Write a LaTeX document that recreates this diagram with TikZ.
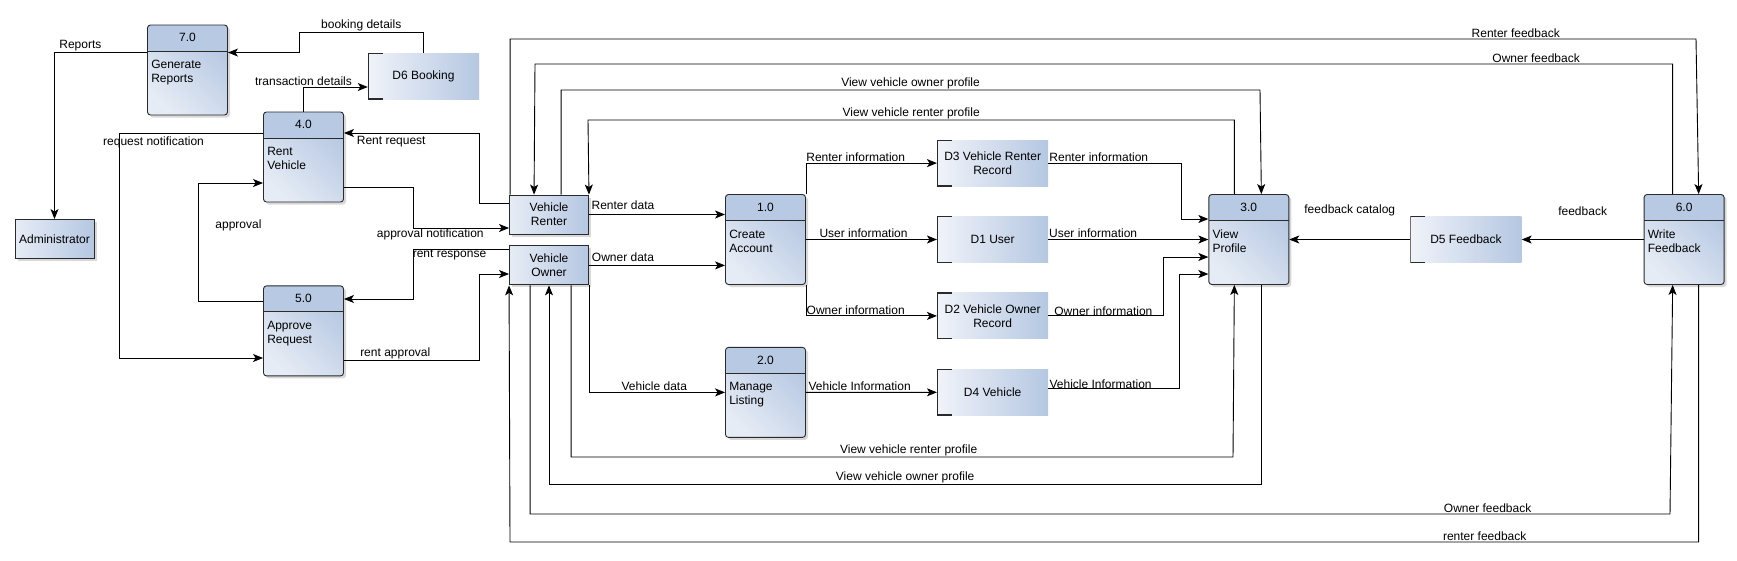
\documentclass[tikz,border=0pt]{standalone}
\usepackage{fontspec}
\setmainfont{Liberation Sans}
\usetikzlibrary{positioning, arrows.meta, shadows}
\definecolor{hdblue}{HTML}{B8C9E3}
\definecolor{lightblue}{HTML}{E6ECF5}
\definecolor{midblue}{HTML}{B5C7E2}
\definecolor{storeleft}{HTML}{F0F3F9}
\definecolor{edge}{HTML}{2A2A2A}
\tikzset{
    process/.style={
        draw=edge, rectangle, rounded corners=3pt, line width=0.9pt,
        minimum width=80pt, minimum height=90pt, inner sep=0pt,
        top color=midblue, bottom color=lightblue, shading angle=-45,
        drop shadow={shadow xshift=2.5pt, shadow yshift=-2.5pt, opacity=0.3},
        path picture={
            \fill[hdblue] (path picture bounding box.north west) rectangle
                ([yshift=-26pt]path picture bounding box.north east);
            \draw[edge, line width=0.9pt] ([yshift=-26pt]path picture bounding box.north west)
                -- ([yshift=-26pt]path picture bounding box.north east);
        }
    },
    procno/.style={inner sep=0pt},
    proctxt/.style={anchor=north west, align=left, inner sep=2pt},
    entity/.style={
        draw=edge, rectangle, line width=0.9pt, align=center,
        minimum width=79pt, minimum height=39pt,
        left color=lightblue, right color=midblue,
        drop shadow={shadow xshift=2.5pt, shadow yshift=-2.5pt, opacity=0.3}
    },
    store/.style={
        rectangle, minimum width=111pt, minimum height=46pt, align=center,
        left color=storeleft, right color=midblue,
        path picture={
            \draw[edge, line width=1.8pt] ([xshift=15pt]path picture bounding box.north west)
                -| (path picture bounding box.south west)
                -- ([xshift=15pt]path picture bounding box.south west);
        }
    },
    flow/.style={-{Stealth[length=10pt, width=8pt, inset=2.5pt]}, line width=0.9pt},
    lbl/.style={inner sep=1pt}
}
\newcommand{\dfdproc}[4][]{%
    \node[process, #1] (#2) {};
    \node[procno] (#2-no) at ([yshift=-13pt]#2.north) {#3};
    \node[proctxt] (#2-txt) at ([xshift=2pt, yshift=-33.5pt]#2.north west) {#4};
}

\begin{document}
\begin{tikzpicture}[x=1pt, y=-1pt, every node/.style={font=\fontsize{12pt}{14pt}\selectfont}]
    \path[use as bounding box, fill=white] (0,0) rectangle (1737,560);

    \dfdproc[at={(187.5,70)}]{rep}{7.0}{Generate\\Reports}
    \node[entity] (admin) at (54.5,239) {Administrator};
    \node[store] (dbook) at (423.5,76) {D6 Booking};
    \dfdproc[at={(303.5,157)}]{rent}{4.0}{Rent\\Vehicle}
    \dfdproc[below=83pt of rent]{appr}{5.0}{Approve\\Request}
    \node[entity] (renter) at (549,214.5) {Vehicle\\Renter};
    \node[entity, below=11pt of renter] (owner) {Vehicle\\Owner};
    \dfdproc[at={(765.5,239.5)}]{acc}{1.0}{Create\\Account}
    \dfdproc[below=62pt of acc]{lst}{2.0}{Manage\\Listing}
    \node[store, right=131pt of acc] (duser) {D1 User};
    \node[store, above=30pt of duser] (drenter) {D3 Vehicle Renter\\Record};
    \node[store, below=30pt of duser] (downer) {D2 Vehicle Owner\\Record};
    \node[store, below=30pt of downer] (dveh) {D4 Vehicle};
    \dfdproc[right=160pt of duser]{view}{3.0}{View\\Profile}
    \node[store, right=121pt of view] (dfb) {D5 Feedback};
    \dfdproc[right=122pt of dfb]{wfb}{6.0}{Write\\Feedback}

    \draw[flow] ([yshift=-28pt]rep.north west) -| node[lbl, pos=0.36, above] (l-rep) {Reports} (admin.north);
    \draw[flow] (dbook.north) |- node[lbl, pos=0.75, above] (l-book) {booking details} (299,32)
        |- ([yshift=-28pt]rep.north east);
    \draw[flow] (rent.north) |- node[lbl, pos=0.5, above] (l-trans) {transaction details} ([yshift=-11pt]dbook.west);
    \draw[flow] ([yshift=11.5pt]renter.west) -| (479,133)
        -- node[lbl, pos=0.65, below=2pt] (l-rreq) {Rent request} (rent.east |- 479,133);
    \draw[flow] (rent.west |- 0,133) -| node[lbl, pos=0.38, below=2pt] (l-rnot) {request notification} (119,358)
        -- (appr.west |- 0,358);
    \draw[flow] (rent.east |- 0,187) -| (413,228)
        -- node[lbl, pos=0.18, below, inner sep=0pt] (l-anot) {approval notification} (renter.west |- 0,228);
    \draw[flow] (owner.west |- 0,249) -| node[lbl, pos=0.31, below, inner sep=0pt] (l-rres) {rent response} (413,299)
        -- (appr.east |- 0,299);
    \draw[flow] (appr.west |- 0,301) -| node[lbl, pos=0.82, right=16pt] (l-appr) {approval} (198,183)
        -- (rent.west |- 0,183);
    \draw[flow] (appr.east |- 0,360) -| node[lbl, pos=0.19, above] (l-rapp) {rent approval} (479,274)
        -- (owner.west |- 0,274);

    \draw[flow] (renter.east) -- node[lbl, pos=0.25, above=3pt] (l-rdat) {Renter data} (renter.east -| acc.west);
    \draw[flow] (owner.east) -- node[lbl, pos=0.25, above=2pt] (l-odat) {Owner data} (owner.east -| acc.west);
    \draw[flow] (acc.north east) |- node[lbl, pos=0.69, above] (l-acc1) {Renter information} (drenter.west);
    \draw[flow] (acc.east) -- node[lbl, pos=0.44, above] (l-acc2) {User information} (duser.west);
    \draw[flow] (acc.south east) |- node[lbl, pos=0.69, above] (l-acc3) {Owner information} (downer.west);
    \draw[flow] (owner.south east) |- node[lbl, pos=0.74, above] (l-vdat) {Vehicle data} (lst.west);
    \draw[flow] (lst.east) -- node[lbl, pos=0.41, above] (l-vinf) {Vehicle Information} (dveh.west);

    \draw[flow] (drenter.east) -| node[lbl, pos=0.19, above] (l-d3) {Renter information} (1181,219)
        -- (view.west |- 0,219);
    \draw[flow] (duser.east) -- node[lbl, pos=0.28, above] (l-d1) {User information} (view.west);
    \draw[flow] (downer.east) -| node[lbl, pos=0.24, above, inner sep=0pt] (l-d2) {Owner information} (1163,257)
        -- (view.west |- 0,257);
    \draw[flow] ([yshift=3.5pt]dveh.east) -| node[lbl, pos=0.2, above, inner sep=0pt] (l-d4) {Vehicle Information} (1179,274)
        -- (view.west |- 0,274);
    \draw[flow] (wfb.west) -- node[lbl, above=22pt] (l-fb) {feedback} (dfb.east);
    \draw[flow] (dfb.west) -- node[lbl, above=22pt] (l-fbc) {feedback catalog} (view.east);

    \draw[flow] ([xshift=1pt]renter.north west) |- node[lbl, pos=0.924, above] (l-rfb1) {Renter feedback} (1696,39)
        -- ([xshift=55pt]wfb.north west);
    \draw[flow] ([xshift=29pt]wfb.north west) |- node[lbl, pos=0.56, above] (l-ofb1) {Owner feedback} (535,64)
        -- ([xshift=25pt]renter.north west);
    \draw[flow] ([xshift=52pt]renter.north west) |- node[lbl, pos=0.75, above] (l-vop1) {View vehicle owner profile} (1260,90)
        -- ([xshift=53pt]view.north west);
    \draw[flow] ([xshift=26pt]view.north west) |- node[lbl, pos=0.75, above] (l-vrp1) {View vehicle renter profile} (588,120)
        -- (renter.north east);

    \draw[flow] ([xshift=62pt]owner.south west) |- node[lbl, pos=0.755, above] (l-vrp2) {View vehicle renter profile} (1233,457)
        -- ([xshift=26pt]view.south west);
    \draw[flow] ([xshift=53pt]view.south west) |- node[lbl, pos=0.75, above] (l-vop2) {View vehicle owner profile} (549,484)
        -- (owner.south);
    \draw[flow] ([xshift=21pt]owner.south west) |- node[lbl, pos=0.92, above] (l-ofb2) {Owner feedback} (1670,514)
        -- ([xshift=29pt]wfb.south west);
    \draw[flow] ([xshift=55pt]wfb.south west) |- node[lbl, pos=0.59, above] (l-rfb2) {renter feedback} (510,542)
        -- (owner.south west);
\end{tikzpicture}
\end{document}
